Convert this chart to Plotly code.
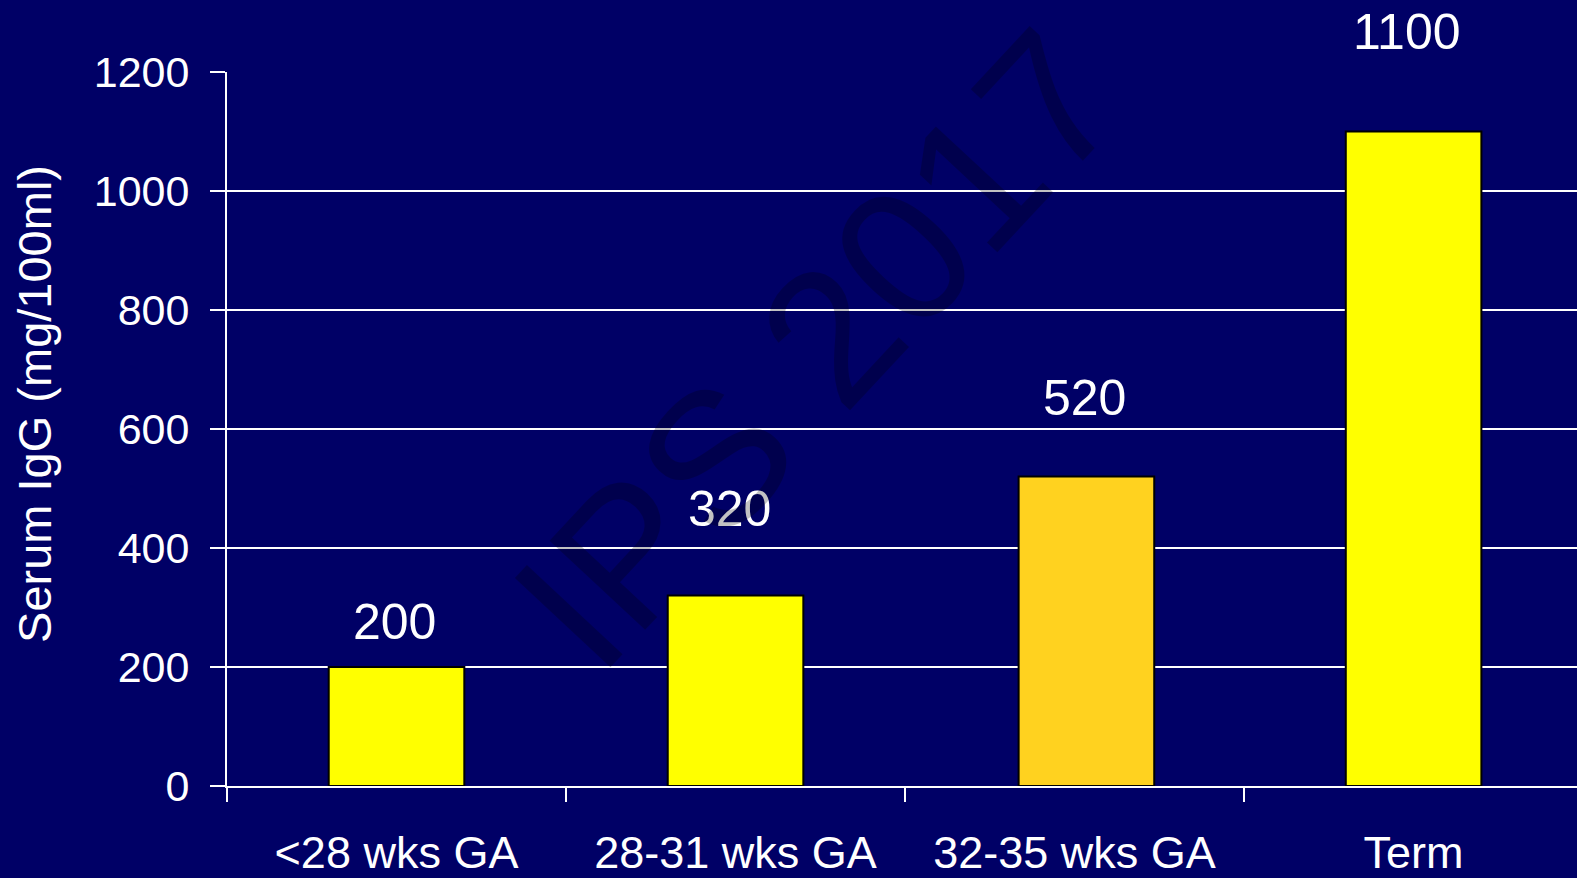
import plotly.graph_objects as go

# Serum IgG by gestational age group
categories = ["<28 wks GA", "28-31 wks GA", "32-35 wks GA", "Term"]
igg_values = [200, 320, 520, 1100]
bar_colors = ["#FFFF00", "#FFFF00", "#FFD21F", "#FFFF00"]
y_ticks = [0, 200, 400, 600, 800, 1000, 1200]

# Bar placement within each category (left edge relative to the category centre)
bar_offsets = [-0.2, -0.2, -0.165, -0.2]

# Pixel nudges for the value labels placed above each bar
label_dx = [-2, -6, 10, -7]
label_dy = [45, 87, 79, 100]

BG = "#000066"
FONT = "Liberation Sans, Arial, sans-serif"

fig = go.Figure()
fig.add_trace(go.Bar(
    x=categories,
    y=igg_values,
    width=0.4,
    offset=bar_offsets,
    marker=dict(color=bar_colors, line=dict(color="#000000", width=2)),
    showlegend=False,
    hoverinfo="x+y",
))

annotations = []
for cat, val, dx, dy in zip(categories, igg_values, label_dx, label_dy):
    annotations.append(dict(
        x=cat, y=val, xref="x", yref="y",
        text=str(val), showarrow=False,
        xanchor="center", yanchor="middle",
        xshift=dx, yshift=dy,
        font=dict(family=FONT, size=50, color="#FFFFFF"),
    ))

# Y axis title
annotations.append(dict(
    x=-0.143, y=0.535, xref="paper", yref="paper",
    text="Serum IgG (mg/100ml)", textangle=-90, showarrow=False,
    xanchor="center", yanchor="middle",
    font=dict(family=FONT, size=47, color="#FFFFFF"),
))

# Semi-transparent watermark across the plot
annotations.append(dict(
    x=0.437, y=0.612, xref="paper", yref="paper",
    text="IPS 2017", textangle=-47, showarrow=False,
    xanchor="center", yanchor="middle",
    font=dict(family=FONT, size=190, color="rgba(0,0,0,0.24)"),
))

fig.update_layout(
    width=1577, height=878,
    paper_bgcolor=BG, plot_bgcolor=BG,
    margin=dict(l=227, r=0, t=72, b=90),
    annotations=annotations,
    font=dict(family=FONT, color="#FFFFFF"),
)

fig.update_xaxes(
    range=[-0.5, 3.482],
    showline=True, linecolor="#FFFFFF", linewidth=2,
    ticks="outside", tickson="boundaries", ticklen=14, tickwidth=2, tickcolor="#FFFFFF",
    showgrid=False, zeroline=False,
    tickfont=dict(family=FONT, size=45, color="#FFFFFF"),
    ticklabelstandoff=26,
)

fig.update_yaxes(
    range=[0, 1200],
    tickvals=y_ticks,
    showline=True, linecolor="#FFFFFF", linewidth=2,
    ticks="outside", ticklen=15, tickwidth=2, tickcolor="#FFFFFF",
    showgrid=True, gridcolor="#FFFFFF", gridwidth=2,
    zeroline=False,
    tickfont=dict(family=FONT, size=43, color="#FFFFFF"),
    ticklabelstandoff=12,
)

fig.write_html("out.html")
